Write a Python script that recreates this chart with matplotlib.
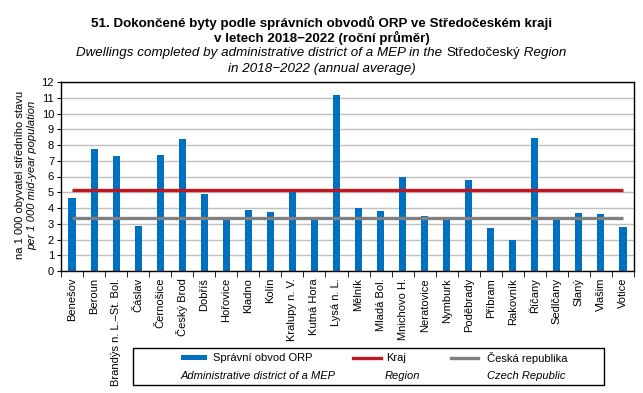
import matplotlib
matplotlib.use("Agg")
import matplotlib.pyplot as plt
from matplotlib.lines import Line2D
from matplotlib.patches import Rectangle
import numpy as np

categories = ["Benešov", "Beroun", "Brandýs n. L.\u2013St. Bol.", "Čáslav", "Černošice",
              "Český Brod", "Dobříš", "Hořovice", "Kladno", "Kolín", "Kralupy n. V.",
              "Kutná Hora", "Lysá n. L.", "Mělník", "Mladá Bol.", "Mnichovo H.",
              "Neratovice", "Nymburk", "Poděbrady", "Příbram", "Rakovník", "Říčany",
              "Sedlčany", "Slaný", "Vlašim", "Votice"]
orp_values = [4.65, 7.75, 7.3, 2.88, 7.37, 8.38, 4.9, 3.3, 3.9, 3.77, 5.1, 3.3, 11.2,
              4.02, 3.83, 5.98, 3.52, 3.3, 5.79, 2.76, 2.0, 8.44, 3.3, 3.7, 3.64, 2.82]
kraj_value = 5.14
cr_value = 3.37
y_ticks = list(range(0, 13))

BLUE = "#0070C0"
RED = "#C0161E"
GRAY = "#808080"

plt.rcParams['font.family'] = ['Liberation Sans', 'DejaVu Sans']

W, H = 643, 393
fig = plt.figure(figsize=(W / 100, H / 100), dpi=100)
ax = fig.add_axes([61/W, 1-271/H, 573/W, 189/H])

x = np.arange(len(categories))
ax.bar(x, orp_values, width=0.32, color=BLUE, zorder=2)
ax.plot([x[0], x[-1]], [kraj_value, kraj_value], color=RED, lw=2.4, zorder=3, solid_capstyle='butt')
ax.plot([x[0], x[-1]], [cr_value, cr_value], color=GRAY, lw=2.4, zorder=3, solid_capstyle='butt')

ax.set_xlim(-0.5, len(categories) - 0.5)
ax.set_ylim(0, 12)
ax.set_yticks(y_ticks)
ax.set_yticklabels([str(t) for t in y_ticks], fontsize=8)
ax.yaxis.grid(True, color="#BFBFBF", lw=1, zorder=0)
ax.set_axisbelow(True)

ax.set_xticks(x)
ax.set_xticklabels(categories, rotation=90, fontsize=8)
ax.tick_params(axis='x', which='major', length=0, pad=5)
ax.set_xticks(np.arange(-0.5, len(categories)), minor=True)
ax.tick_params(axis='x', which='minor', length=4, direction='out', color='black')
ax.tick_params(axis='y', length=3, direction='out', pad=2)
for s in ax.spines.values():
    s.set_color('black')
    s.set_linewidth(1)

def fx(px): return px / W
def fy(py): return 1 - py / H

# y label (two lines)
fig.text(fx(20), fy(175), "na 1 000 obyvatel středního stavu", rotation=90,
         ha='center', va='center', fontsize=8)
fig.text(fx(32), fy(175), "per 1 000 mid-year population", rotation=90,
         ha='center', va='center', fontsize=8, style='italic')

# titles
TS = 9.6
fig.text(0.5, fy(23), "51. Dokončené byty podle správních obvodů ORP ve Středočeském kraji",
         ha='center', va='center', fontsize=TS, fontweight='bold')
fig.text(0.5, fy(38), "v letech 2018\u22122022 (roční průměr)",
         ha='center', va='center', fontsize=TS, fontweight='bold')

# mixed style line: italic / upright / italic
parts = [("Dwellings completed by administrative district of a MEP in the ", 'italic'),
         ("Středočeský", 'normal'),
         (" Region", 'italic')]
renderer = fig.canvas.get_renderer()
tobjs = []
for txt, st in parts:
    t = fig.text(0, fy(53), txt, ha='left', va='center', fontsize=TS, style=st)
    tobjs.append(t)
widths = [t.get_window_extent(renderer).width for t in tobjs]
total = sum(widths)
start = (W - total) / 2
for t, w in zip(tobjs, widths):
    t.set_x(fx(start))
    start += w
fig.text(0.5, fy(69), "in 2018\u22122022 (annual average)",
         ha='center', va='center', fontsize=TS, style='italic')

# legend
fig.patches.append(Rectangle((fx(133), fy(385)), fx(604) - fx(133), fy(348) - fy(385),
                             transform=fig.transFigure, fill=False, ec='black', lw=1))
fig.patches.append(Rectangle((fx(181), fy(360)), fx(26), 5/H, transform=fig.transFigure,
                             color=BLUE, lw=0))
fig.text(fx(213), fy(358), "Správní obvod ORP", fontsize=8, va='center')
fig.text(fx(181), fy(376), "Administrative district of a MEP", fontsize=8, va='center', style='italic')
fig.lines.append(Line2D([fx(353), fx(381)], [fy(358), fy(358)], transform=fig.transFigure,
                        color=RED, lw=2.4))
fig.text(fx(386), fy(358), "Kraj", fontsize=8, va='center')
fig.text(fx(385), fy(376), "Region", fontsize=8, va='center', style='italic')
fig.lines.append(Line2D([fx(451), fx(478)], [fy(358), fy(358)], transform=fig.transFigure,
                        color=GRAY, lw=2.4))
fig.text(fx(487), fy(358), "Česká republika", fontsize=8, va='center')
fig.text(fx(487), fy(376), "Czech Republic", fontsize=8, va='center', style='italic')

fig.savefig("out.png", dpi=100)
